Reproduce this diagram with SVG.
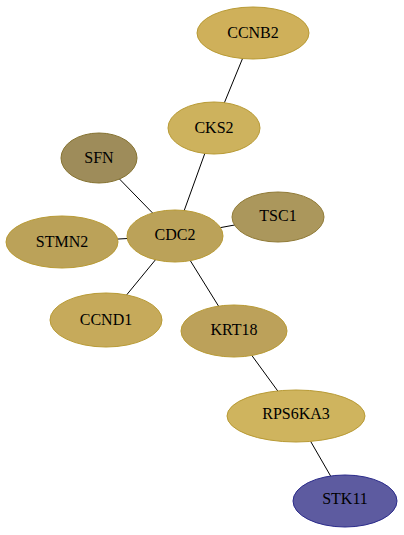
<svg xmlns="http://www.w3.org/2000/svg" width="404" height="535" viewBox="0 0 404 535">
<style>
.e{stroke:#000;stroke-width:1;fill:none}
.n{stroke-width:1}
.g{stroke:#b89a34}
text{font-size:16px;fill:#000;text-anchor:middle}
</style>
<rect width="404" height="535" fill="#fff"/>
<g id="edges">
<line class="e" x1="253" y1="33" x2="214" y2="128"/>
<line class="e" x1="214" y1="128" x2="175" y2="236"/>
<line class="e" x1="99" y1="158" x2="175" y2="236"/>
<line class="e" x1="278" y1="217" x2="175" y2="236"/>
<line class="e" x1="62" y1="242" x2="175" y2="236"/>
<line class="e" x1="106" y1="320" x2="175" y2="236"/>
<line class="e" x1="175" y1="236" x2="234" y2="331"/>
<line class="e" x1="234" y1="331" x2="296" y2="416"/>
<line class="e" x1="296" y1="416" x2="345" y2="501"/>
</g>
<g font-family="Liberation Serif, DejaVu Serif, Times New Roman, serif">
<g id="CCNB2"><ellipse class="n g" cx="253" cy="33" rx="56" ry="26" fill="#cfb05a"/><text x="253" y="38">CCNB2</text></g>
<g id="CKS2"><ellipse class="n g" cx="214" cy="128" rx="46" ry="26" fill="#cdb25d"/><text x="214" y="133">CKS2</text></g>
<g id="SFN"><ellipse class="n" stroke="#857230" cx="99" cy="158" rx="38" ry="25" fill="#9e8c5a"/><text x="99" y="163">SFN</text></g>
<g id="TSC1"><ellipse class="n" stroke="#907a36" cx="278" cy="217" rx="46" ry="25" fill="#ab975c"/><text x="278" y="221">TSC1</text></g>
<g id="CDC2"><ellipse class="n g" cx="175" cy="236" rx="48" ry="26" fill="#bba259"/><text x="175" y="240">CDC2</text></g>
<g id="STMN2"><ellipse class="n g" cx="62" cy="242" rx="56" ry="26" fill="#bba259"/><text x="62" y="247">STMN2</text></g>
<g id="CCND1"><ellipse class="n g" cx="106" cy="320" rx="56" ry="27" fill="#c6aa5b"/><text x="106" y="325">CCND1</text></g>
<g id="KRT18"><ellipse class="n g" cx="234" cy="331" rx="53" ry="26" fill="#bca15a"/><text x="234" y="335">KRT18</text></g>
<g id="RPS6KA3"><ellipse class="n g" cx="296" cy="416" rx="69" ry="26" fill="#cfb45e"/><text x="296" y="419">RPS6KA3</text></g>
<g id="STK11"><ellipse class="n" stroke="#2a2a8a" cx="345" cy="501" rx="52" ry="26" fill="#5d5ba0"/><text x="345" y="504">STK11</text></g>
</g>
</svg>
